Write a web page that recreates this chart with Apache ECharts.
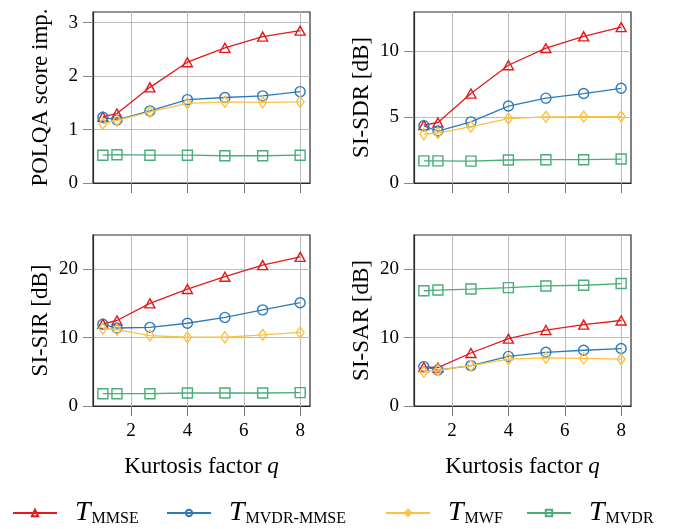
<!DOCTYPE html>
<html>
<head>
<meta charset="utf-8">
<script src="https://cdn.jsdelivr.net/npm/echarts@6/dist/echarts.min.js"></script>
<style>
  html, body { margin: 0; padding: 0; background: #fff; }
  #chart { width: 681px; height: 529px; }
</style>
</head>
<body>
<div id="chart"></div>
<script>
// Kurtosis factor values (x positions of the markers)
const kurtosis = [1, 1.5, 2.67, 4, 5.33, 6.67, 8];
const xTicks = [2, 4, 6, 8];

// POLQA score improvement
const polqaMMSE     = [1.24, 1.30, 1.79, 2.26, 2.53, 2.74, 2.85];
const polqaMVDRMMSE = [1.23, 1.18, 1.35, 1.56, 1.60, 1.63, 1.71];
const polqaMWF      = [1.11, 1.17, 1.33, 1.49, 1.52, 1.51, 1.52];
const polqaMVDR     = [0.52, 0.53, 0.52, 0.52, 0.51, 0.51, 0.52];
const polqaTicks    = [0, 1, 2, 3];

// SI-SDR [dB]
const sdrMMSE     = [4.40, 4.60, 6.80, 8.95, 10.25, 11.15, 11.85];
const sdrMVDRMMSE = [4.35, 3.95, 4.65, 5.85, 6.45, 6.80, 7.20];
const sdrMWF      = [3.72, 3.80, 4.28, 4.90, 5.03, 5.05, 5.05];
const sdrMVDR     = [1.68, 1.68, 1.66, 1.75, 1.77, 1.77, 1.82];
const sdrTicks    = [0, 5, 10];

// SI-SIR [dB]
const sirMMSE     = [12.0, 12.5, 15.0, 17.1, 18.9, 20.6, 21.8];
const sirMVDRMMSE = [11.95, 11.4, 11.5, 12.1, 12.95, 14.05, 15.1];
const sirMWF      = [11.3, 11.15, 10.3, 10.05, 10.05, 10.4, 10.75];
const sirMVDR     = [1.80, 1.80, 1.80, 1.90, 1.90, 1.90, 1.95];
const sirTicks    = [0, 10, 20];

// SI-SAR [dB]
const sarMMSE     = [5.70, 5.60, 7.75, 9.85, 11.1, 11.9, 12.5];
const sarMVDRMMSE = [5.75, 5.25, 5.90, 7.25, 7.85, 8.15, 8.40];
const sarMWF      = [5.00, 5.25, 5.90, 6.85, 7.05, 6.95, 6.85];
const sarMVDR     = [16.85, 16.95, 17.1, 17.3, 17.55, 17.65, 17.9];
const sarTicks    = [0, 10, 20];

const methods = [
  { key: 'MMSE',      sub: 'MMSE',      color: '#e31a1c', symbol: 'triangle', size: [10, 9] },
  { key: 'MVDR-MMSE', sub: 'MVDR-MMSE', color: '#2b7bba', symbol: 'circle',   size: 10 },
  { key: 'MWF',       sub: 'MWF',       color: '#fcc140', symbol: 'diamond',  size: [8, 11] },
  { key: 'MVDR',      sub: 'MVDR',      color: '#48ad77', symbol: 'rect',     size: 10 }
];
// left edge of each legend entry
const legendLeft = [12, 166, 385, 526];

const panels = [
  { name: 'POLQA score imp.', max: 3.2, ticks: polqaTicks, data: [polqaMMSE, polqaMVDRMMSE, polqaMWF, polqaMVDR], left: 93,  top: 12,  xLabels: false },
  { name: 'SI-SDR [dB]',      max: 13,  ticks: sdrTicks,   data: [sdrMMSE, sdrMVDRMMSE, sdrMWF, sdrMVDR],         left: 414, top: 12,  xLabels: false },
  { name: 'SI-SIR [dB]',      max: 25,  ticks: sirTicks,   data: [sirMMSE, sirMVDRMMSE, sirMWF, sirMVDR],         left: 93,  top: 235, xLabels: true },
  { name: 'SI-SAR [dB]',      max: 25,  ticks: sarTicks,   data: [sarMMSE, sarMVDRMMSE, sarMWF, sarMVDR],         left: 414, top: 235, xLabels: true }
];

const FONT = 'Liberation Serif';
const frameColor = '#2b2b2b';
const gridColor = '#bdbdbd';

const grids = [], xAxes = [], yAxes = [], series = [];

panels.forEach((p, i) => {
  grids.push({
    left: p.left, top: p.top, width: 217, height: 171,
    show: true, borderColor: frameColor, borderWidth: 1.2, backgroundColor: 'transparent'
  });
  xAxes.push({
    gridIndex: i, type: 'value', min: 0.65, max: 8.35,
    name: p.xLabels ? '{n|Kurtosis factor }{q|q}' : '',
    nameLocation: 'middle', nameGap: 49,
    nameTextStyle: {
      rich: {
        n: { fontFamily: FONT, fontSize: 23, color: '#000' },
        q: { fontFamily: FONT, fontSize: 23, fontStyle: 'italic', color: '#000' }
      }
    },
    axisLine: { show: true, onZero: false, lineStyle: { color: frameColor, width: 1.2 } },
    axisTick: { show: true, inside: false, length: 10, customValues: xTicks, lineStyle: { color: '#777', width: 1 } },
    axisLabel: { show: p.xLabels, customValues: xTicks, margin: 16, fontFamily: FONT, fontSize: 19, color: '#000' },
    splitLine: { show: true, lineStyle: { color: gridColor, width: 1 } }
  });
  yAxes.push({
    gridIndex: i, type: 'value', min: 0, max: p.max,
    name: p.name, nameLocation: 'middle', nameGap: 41, nameRotate: 90,
    nameTextStyle: { fontFamily: FONT, fontSize: 23, color: '#000' },
    axisLine: { show: true, lineStyle: { color: frameColor, width: 1.2 } },
    axisTick: { show: true, inside: false, length: 10, customValues: p.ticks, lineStyle: { color: '#888', width: 1 } },
    axisLabel: { customValues: p.ticks, margin: 15, fontFamily: FONT, fontSize: 19, color: '#000' },
    splitLine: { show: true, lineStyle: { color: gridColor, width: 1 } }
  });
  methods.forEach((m, j) => {
    series.push({
      name: m.key, type: 'line', xAxisIndex: i, yAxisIndex: i,
      data: kurtosis.map((x, k) => [x, p.data[j][k]]),
      symbol: m.symbol, symbolSize: m.size, showSymbol: true,
      lineStyle: { color: m.color, width: 1.3 },
      itemStyle: { color: 'none', borderColor: m.color, borderWidth: 1.4 },
      emphasis: { disabled: true },
      animation: false, z: 2 + j
    });
  });
});

// one legend entry per method, placed along the bottom row
const legends = methods.map((m, j) => ({
  data: [m.key],
  left: legendLeft[j], top: 499, padding: 0,
  itemWidth: 44, itemHeight: 8,
  selectedMode: false,
  formatter: () => '{t|T}{s|' + m.sub + '}',
  textStyle: {
    rich: {
      t: { fontFamily: FONT, fontSize: 28, fontStyle: 'italic', color: '#000', padding: [0, 1, 0, 13], verticalAlign: 'bottom' },
      s: { fontFamily: FONT, fontSize: 16, color: '#000', verticalAlign: 'bottom' }
    }
  }
}));

const chart = echarts.init(document.getElementById('chart'), null, { renderer: 'canvas' });
chart.setOption({
  backgroundColor: '#fff',
  animation: false,
  grid: grids, xAxis: xAxes, yAxis: yAxes, series: series,
  legend: legends
});
</script>
</body>
</html>
